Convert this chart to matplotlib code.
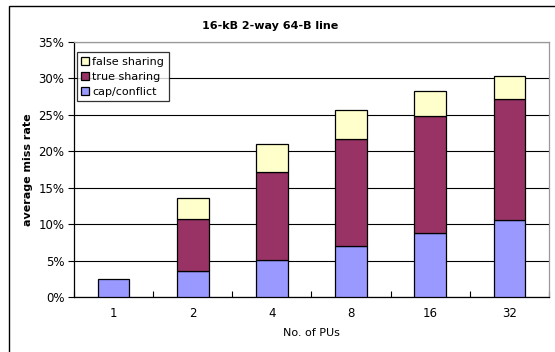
import matplotlib.pyplot as plt
import numpy as np
from matplotlib.patches import Rectangle, Patch
from matplotlib.ticker import MultipleLocator, FuncFormatter

plt.rcParams["font.family"] = ["DejaVu Sans"]

# miss rate components (%) per number of processing units
pus = ["1", "2", "4", "8", "16", "32"]
cap_conflict = [2.5, 3.55, 5.05, 6.95, 8.85, 10.55]
true_sharing = [0.0, 7.2, 12.1, 14.75, 15.95, 16.65]
false_sharing = [0.0, 2.85, 3.85, 4.0, 3.5, 3.1]

color_blue = "#9999ff"
color_plum = "#993366"
color_cream = "#ffffcc"

fig = plt.figure(figsize=(5.55, 3.52), dpi=100)
ax = fig.add_axes([74 / 555, 1 - 297 / 352, 475 / 555, 255 / 352])

x = np.arange(len(pus))
w = 0.40
base2 = np.array(cap_conflict)
base3 = base2 + np.array(true_sharing)

kw = dict(width=w, edgecolor="black", linewidth=0.9, zorder=3)
b1 = ax.bar(x, cap_conflict, color=color_blue, **kw)
b2 = ax.bar(x, true_sharing, bottom=base2, color=color_plum, **kw)
b3 = ax.bar(x, false_sharing, bottom=base3, color=color_cream, **kw)
# no empty sharing segments on the single-PU bar
for bars, vals in ((b2, true_sharing), (b3, false_sharing)):
    for r, v in zip(bars, vals):
        if v == 0:
            r.set_visible(False)

ax.set_xlim(-0.5, len(pus) - 0.5)
ax.set_ylim(0, 35)
ax.yaxis.set_major_locator(MultipleLocator(5))
ax.yaxis.set_major_formatter(FuncFormatter(lambda v, p: f"{v:.0f}%"))
ax.grid(axis="y", color="black", linewidth=0.8, zorder=0)
ax.set_axisbelow(True)

ax.set_xticks(x)
ax.set_xticklabels(pus)
ax.set_xticks(np.arange(-0.5, len(pus)), minor=True)
ax.tick_params(axis="x", which="major", length=0, pad=7, labelsize=8.5)
ax.tick_params(axis="x", which="minor", length=4, width=0.8, direction="in")
ax.tick_params(axis="y", length=4, width=0.8, labelsize=8.5, pad=3)

for side in ("top", "right"):
    ax.spines[side].set_color("#999999")
for side in ("left", "bottom"):
    ax.spines[side].set_color("black")
for sp in ax.spines.values():
    sp.set_linewidth(0.9)

ax.set_xlabel("No. of PUs", fontsize=8, labelpad=6)
ax.set_ylabel("average miss rate", fontsize=8, fontweight="bold", labelpad=4)
fig.text(270 / 555, 1 - 26 / 352, "16-kB 2-way 64-B line", fontsize=8,
         fontweight="bold", ha="center", va="center")

handles = [Patch(facecolor=c, edgecolor="black", linewidth=0.9, label=l)
           for c, l in ((color_cream, "false sharing"),
                        (color_plum, "true sharing"),
                        (color_blue, "cap/conflict"))]
leg = ax.legend(handles=handles, loc="upper left",
                bbox_to_anchor=(0.006, 0.96), fontsize=8, frameon=True,
                fancybox=False, edgecolor="black", handlelength=0.7,
                handleheight=0.7, handletextpad=0.3, borderpad=0.4,
                labelspacing=0.45, borderaxespad=0)
leg.get_frame().set_linewidth(0.9)

# outer chart frame
fig.patches.append(Rectangle((9 / 555, -0.1), 1.2, 1.1 - 6 / 352,
                             transform=fig.transFigure, fill=False,
                             edgecolor="black", linewidth=1.0))

fig.savefig("out.png", dpi=100)
